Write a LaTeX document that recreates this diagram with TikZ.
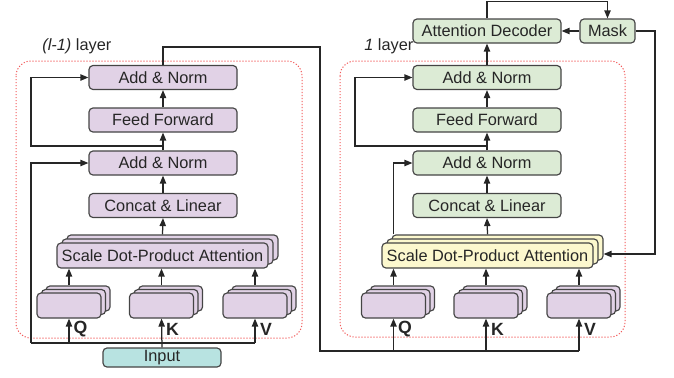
\documentclass[tikz,border=0pt]{standalone}
\usepackage{fontspec}
\setmainfont{Liberation Sans}
\usetikzlibrary{arrows.meta}
\definecolor{viola}{HTML}{E1D2E6}
\definecolor{verde}{HTML}{DCEBD5}
\definecolor{giallo}{HTML}{FCF8CE}
\definecolor{acqua}{HTML}{B8E3E1}
\definecolor{bordo}{HTML}{454545}
\definecolor{rosso}{HTML}{F25A5A}
\tikzset{
  blocco/.style={draw=bordo,line width=0.7pt,rounded corners=2.4pt,inner sep=0pt,
    minimum height=14.4pt,text=black!85,font=\fontsize{9.8}{11}\selectfont},
  largo/.style={blocco,minimum width=88.8pt},
  sdpa/.style={blocco,minimum width=126.6pt,minimum height=15pt},
  piccolo/.style={blocco,fill=viola,minimum width=38.4pt,minimum height=15pt},
  lettera/.style={font=\fontsize{10.6}{12}\selectfont\bfseries,inner sep=0pt,text=black!85},
  etichetta/.style={font=\fontsize{9.8}{11}\selectfont,inner sep=0pt,text=black!85},
  cornice/.style={draw=rosso,line width=0.6pt,dash pattern=on 0.7pt off 1.1pt,rounded corners=9pt},
  linea/.style={draw=black!85,line width=0.75pt},
  freccia/.style={linea,-{Triangle[length=4.8pt,width=3.8pt]}},
}
\begin{document}
\begin{tikzpicture}[x=0.6pt,y=-0.6pt]
  \useasboundingbox (0,0) rectangle (674,377);
  % cornici dei due layer
  \draw[cornice] (16,61) rectangle (302,338);
  \draw[cornice] (340,61) rectangle (625,337);
  \node[etichetta,anchor=west] (lab1) at (42,46) {\textit{(l-1)} layer};
  \node[etichetta,anchor=west] (lab2) at (364,46) {\textit{1} layer};

  % layer (l-1)
  \node[largo,fill=viola] (an1a) at (163,77.5)  {Add \& Norm};
  \node[largo,fill=viola] (ff1)  at (163,120)   {Feed Forward};
  \node[largo,fill=viola] (an1b) at (163,163)   {Add \& Norm};
  \node[largo,fill=viola] (cat1) at (163,205.5) {Concat \& Linear};
  \foreach \d in {2,1}{\node[sdpa,fill=viola] (sdpa1b\d) at (162.5+5*\d,255.5-4*\d) {};}
  \node[sdpa,fill=viola] (sdpa1) at (162.5,255.5) {Scale Dot-Product Attention};
  \foreach \n/\x in {q1/69,k1/161.5,v1/255}{
    \foreach \d in {2,1}{\node[piccolo] (\n b\d) at (\x+4.5*\d,305.5-3.5*\d) {};}
    \node[piccolo] (\n) at (\x,305.5) {};
  }
  \node[blocco,fill=acqua,minimum width=70.8pt,minimum height=11.4pt] (inp) at (162,357.5) {Input};
  \node[lettera] (lq1) at (80.5,329.5) {Q};
  \node[lettera] (lk1) at (172.5,329.5) {K};
  \node[lettera] (lv1) at (266,329.5) {V};

  % layer 1
  \node[largo,fill=verde] (dec)  at (487,31)    {Attention Decoder};
  \node[blocco,fill=verde,minimum width=33pt] (mask) at (607.5,31) {Mask};
  \node[largo,fill=verde] (an2a) at (487,77.5)  {Add \& Norm};
  \node[largo,fill=verde] (ff2)  at (487,120)   {Feed Forward};
  \node[largo,fill=verde] (an2b) at (487,163)   {Add \& Norm};
  \node[largo,fill=verde] (cat2) at (487,205.5) {Concat \& Linear};
  \foreach \d in {2,1}{\node[sdpa,fill=giallo] (sdpa2b\d) at (487.5+5*\d,255.5-4*\d) {};}
  \node[sdpa,fill=giallo] (sdpa2) at (487.5,255.5) {Scale Dot-Product Attention};
  \foreach \n/\x in {q2/393.5,k2/486,v2/579}{
    \foreach \d in {2,1}{\node[piccolo] (\n b\d) at (\x+4.5*\d,305.5-3.5*\d) {};}
    \node[piccolo] (\n) at (\x,305.5) {};
  }
  \node[lettera] (lq2) at (405,329.5) {Q};
  \node[lettera] (lk2) at (497.5,329.5) {K};
  \node[lettera] (lv2) at (590,329.5) {V};

  % collegamenti interni
  \foreach \c in {1,2}{
    \draw[freccia] (sdpa\c.north |- sdpa\c b2.north) -- (cat\c.south);
    \draw[freccia] (cat\c) -- (an\c b);
    \draw[freccia] (an\c b) -- (ff\c);
    \draw[freccia] (ff\c) -- (an\c a);
    \foreach \n in {q,k,v}{\draw[freccia] (\n\c.north |- \n\c b2.north) -- (\n\c.north |- sdpa\c.south);}
  }
  \coordinate (res1) at (31,146);
  \coordinate (res2) at (355,146);
  \draw[freccia] (ff1.south |- res1) -- (res1) |- (an1a.west);
  \draw[freccia] (ff2.south |- res2) -- (res2) |- (an2a.west);

  % ingresso del layer (l-1)
  \coordinate (bus1) at (31,343);
  \draw[linea] (bus1) -- (v1.south |- bus1);
  \draw[freccia] (inp.north) -- (k1.south);
  \draw[freccia] (q1.south |- bus1) -- (q1.south);
  \draw[freccia] (v1.south |- bus1) -- (v1.south);
  \draw[freccia] (bus1) |- (an1b.west);

  % uscita verso il layer 1
  \coordinate (giro) at (320,47);
  \coordinate (bus2) at (320,351);
  \draw[linea] (an1a.north) |- (giro) -- (bus2) -- (v2.south |- bus2);
  \foreach \n in {q2,k2,v2}{\draw[freccia] (\n.south |- bus2) -- (\n.south);}
  \draw[freccia] (q2.north |- sdpa2b2.north) |- (an2b.west);

  % decoder e maschera
  \coordinate (cima) at (487,1.5);
  \coordinate (ang) at (655,254);
  \draw[freccia] (an2a) -- (dec);
  \draw[freccia] (mask) -- (dec);
  \draw[freccia] (dec.north) -- (cima) -| (mask.north);
  \draw[freccia] (mask.east) -| (ang) -- (sdpa2b2.east |- ang);
\end{tikzpicture}
\end{document}
